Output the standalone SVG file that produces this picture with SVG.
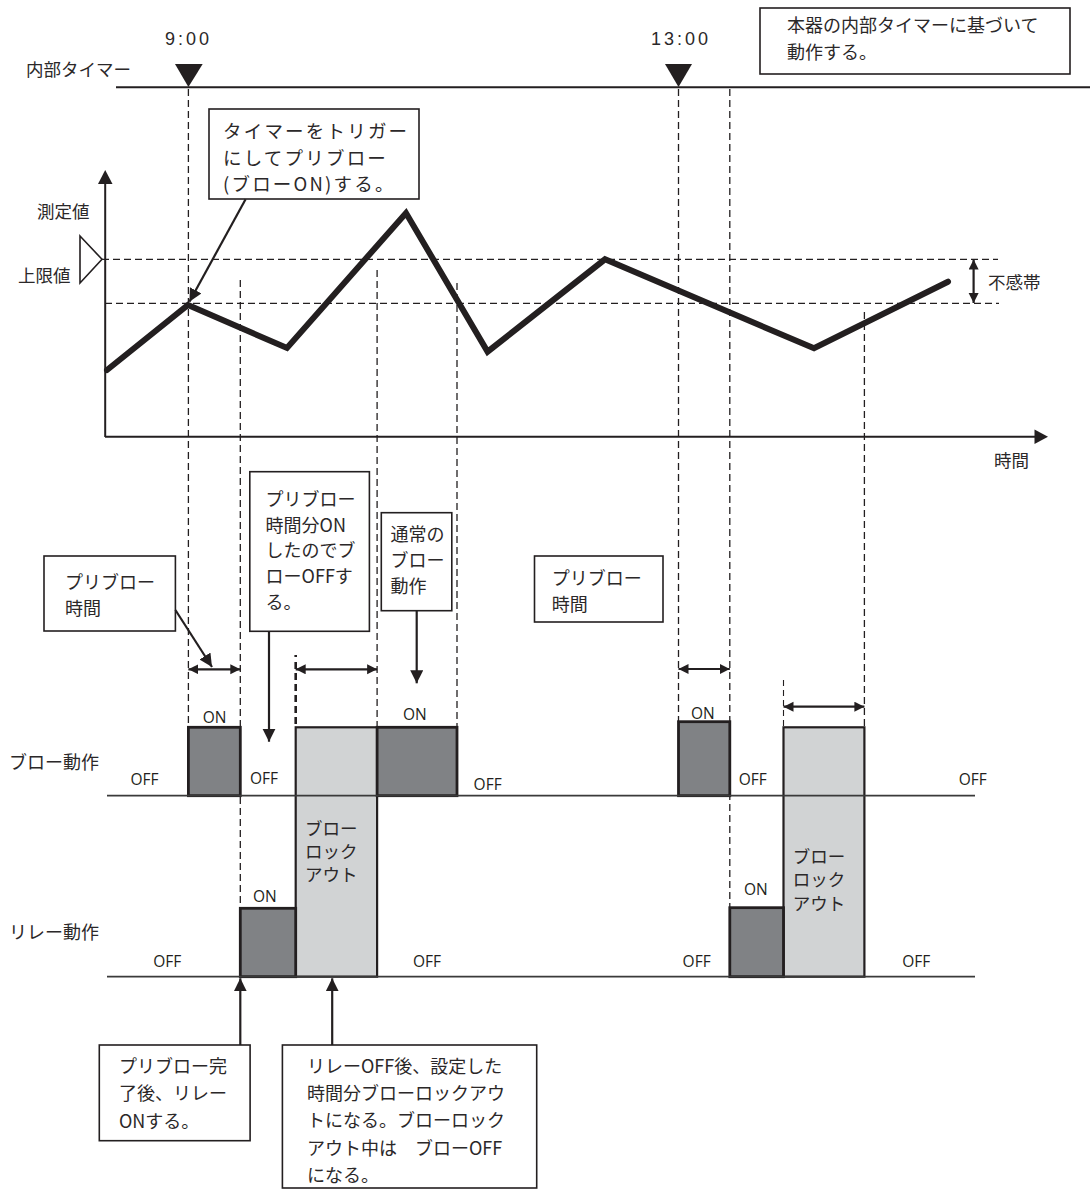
<svg xmlns="http://www.w3.org/2000/svg" width="1090" height="1191" viewBox="0 0 1090 1191">
<style>
.jp{font-family:"Noto Sans CJK JP","Noto Sans",sans-serif;font-size:18px;fill:#2b2829}
.big{font-size:18.5px;letter-spacing:2.2px}
.lat{font-family:"Open Sans","Liberation Sans",sans-serif;font-size:15.5px;fill:#231f20}
.num{font-family:"Liberation Sans",Arial,sans-serif;font-size:18px;letter-spacing:3px;fill:#2b2829}
.box{fill:#fff;stroke:#231f20;stroke-width:1.6}
.dash{fill:none;stroke:#231f20;stroke-width:1.3;stroke-dasharray:7 4}
.on{fill:#808285;stroke:#231f20;stroke-width:2.8}
.lock{fill:#d1d3d4;stroke:#231f20;stroke-width:2.2}
.base{stroke:#3a3a3a;stroke-width:1.8;fill:none}
.arr{stroke:#231f20;stroke-width:2.2;fill:none}
</style>
<defs>
<marker id="big" markerUnits="userSpaceOnUse" markerWidth="14" markerHeight="14" refX="13" refY="6.5" orient="auto"><path d="M0,0 L13,6.5 L0,13 z" fill="#231f20"/></marker>
<marker id="sm" markerUnits="userSpaceOnUse" markerWidth="11" markerHeight="11" refX="10" refY="5" orient="auto-start-reverse"><path d="M0,0 L10,5 L0,10 z" fill="#231f20"/></marker>
</defs>
<rect width="1090" height="1191" fill="#fff"/>

<g id="timer">
<line x1="116" y1="87.3" x2="1090" y2="87.3" stroke="#231f20" stroke-width="2"/>
<polygon points="175,64 202.7,64 188.4,87" fill="#231f20"/>
<polygon points="665,64 692,64 678.5,87" fill="#231f20"/>
<text class="num" x="165" y="45">9:00</text>
<text class="num" x="651" y="45">13:00</text>
<text class="jp" x="26" y="76" style="font-size:17.5px">内部タイマー</text>
</g>

<g id="dashed-guides">
<line class="dash" x1="188.4" y1="89" x2="188.4" y2="727"/>
<line class="dash" x1="240.3" y1="280" x2="240.3" y2="908"/>
<line class="dash" x1="377.1" y1="270" x2="377.1" y2="727"/>
<line class="dash" x1="457" y1="283" x2="457" y2="727"/>
<line class="dash" x1="678.5" y1="89" x2="678.5" y2="722"/>
<line class="dash" x1="729.8" y1="89" x2="729.8" y2="908"/>
<line class="dash" x1="864.4" y1="312" x2="864.4" y2="727"/>
<line class="dash" x1="295.7" y1="655" x2="295.7" y2="727" style="stroke-width:2.6;stroke-dasharray:2 5 7 4 7 4 7 4 7 4 7 4 7 4 7 4"/>
<line class="dash" x1="783.5" y1="680" x2="783.5" y2="727" style="stroke-width:1.1;stroke-dasharray:6 4"/>
<line class="dash" x1="102" y1="259.3" x2="998" y2="259.3"/>
<line class="dash" x1="105" y1="303.3" x2="999" y2="303.3"/>
</g>

<g id="graph">
<line x1="105.2" y1="437" x2="105.2" y2="182" stroke="#231f20" stroke-width="2"/>
<polygon points="105.2,170 112.5,184 98,184" fill="#231f20"/>
<line x1="105" y1="436.7" x2="1036" y2="436.7" stroke="#231f20" stroke-width="2"/>
<polygon points="1048,436.7 1034.5,429.5 1034.5,444" fill="#231f20"/>
<polygon points="80,236 102,259.3 80,283" fill="#fff" stroke="#231f20" stroke-width="1.6"/>
<polyline points="107,370 188,305 287,348 406,213 487.6,351.7 605,259.3 814,348.3 948,281.7" fill="none" stroke="#231f20" stroke-width="6" stroke-linejoin="miter" stroke-miterlimit="10" stroke-linecap="round"/>
<text class="jp" x="37" y="218" style="font-size:17.5px">測定値</text>
<text class="jp" x="18" y="282" style="font-size:17.5px">上限値</text>
<text class="jp" x="988" y="289" style="font-size:17.5px">不感帯</text>
<text class="jp" x="994" y="467" style="font-size:17.5px">時間</text>
</g>

<g id="blow-rects">
<rect class="lock" x="295.7" y="727.3" width="81.4" height="249.4"/>
<rect class="lock" x="783.5" y="727.3" width="80.9" height="249.4"/>
<rect class="on" x="188.4" y="727.3" width="51.9" height="68.4"/>
<rect class="on" x="377.1" y="727.3" width="79.9" height="68.4"/>
<rect class="on" x="678.5" y="721.7" width="51.3" height="74"/>
<rect class="on" x="240.3" y="908.3" width="55.4" height="68.4"/>
<rect class="on" x="729.8" y="907.7" width="53.7" height="69"/>
<line class="base" x1="107" y1="795.7" x2="975" y2="795.7"/>
<line class="base" x1="107" y1="976.7" x2="975" y2="976.7"/>
</g>

<g id="state-labels">
<text class="jp" x="9" y="769">ブロー動作</text>
<text class="jp" x="9" y="939">リレー動作</text>
<text class="lat" x="202.8" y="723">ON</text>
<text class="lat" x="403" y="720">ON</text>
<text class="lat" x="691" y="719">ON</text>
<text class="lat" x="253" y="901.5">ON</text>
<text class="lat" x="744" y="895">ON</text>
<text class="lat" x="130.5" y="785">OFF</text>
<text class="lat" x="250" y="784">OFF</text>
<text class="lat" x="473.6" y="790">OFF</text>
<text class="lat" x="738.7" y="785">OFF</text>
<text class="lat" x="958.8" y="785">OFF</text>
<text class="lat" x="153.3" y="966.7">OFF</text>
<text class="lat" x="413" y="967">OFF</text>
<text class="lat" x="682.6" y="967">OFF</text>
<text class="lat" x="902.3" y="967">OFF</text>
</g>

<g id="lockout-label-1">
<text class="jp" x="305" y="835" style="font-size:17.5px">ブロー</text>
<text class="jp" x="305" y="858" style="font-size:17.5px">ロック</text>
<text class="jp" x="305" y="881" style="font-size:17.5px">アウト</text>
</g>
<g id="lockout-label-2">
<text class="jp" x="792.8" y="863" style="font-size:17.5px">ブロー</text>
<text class="jp" x="792.8" y="886" style="font-size:17.5px">ロック</text>
<text class="jp" x="792.8" y="910" style="font-size:17.5px">アウト</text>
</g>

<g id="note-timer">
<rect class="box" x="760" y="8" width="310" height="66"/>
<text class="jp" x="787" y="32">本器の内部タイマーに基づいて</text>
<text class="jp" x="787" y="59">動作する。</text>
</g>

<g id="note-trigger">
<rect class="box" x="209" y="109" width="210" height="90"/>
<text class="jp big" x="223" y="138">タイマーをトリガー</text>
<text class="jp big" x="223" y="165">にしてプリブロー</text>
<text class="jp big" x="223" y="191">(ブローON)する。</text>
</g>

<g id="note-preblow-1">
<rect class="box" x="44" y="556" width="131.4" height="75"/>
<text class="jp" x="65" y="589">プリブロー</text>
<text class="jp" x="65" y="615">時間</text>
</g>

<g id="note-blow-off">
<rect class="box" x="249.8" y="471.7" width="119.6" height="159.6"/>
<text class="jp" x="265.6" y="506">プリブロー</text>
<text class="jp" x="265.6" y="532">時間分ON</text>
<text class="jp" x="265.6" y="557">したのでブ</text>
<text class="jp" x="265.6" y="583">ローOFFす</text>
<text class="jp" x="265.6" y="609">る。</text>
</g>

<g id="note-normal">
<rect class="box" x="381.3" y="512.7" width="70.5" height="98"/>
<text class="jp" x="390.4" y="541">通常の</text>
<text class="jp" x="390.4" y="567">ブロー</text>
<text class="jp" x="390.4" y="593">動作</text>
</g>

<g id="note-preblow-2">
<rect class="box" x="534.5" y="556" width="128.5" height="66"/>
<text class="jp" x="551.7" y="585">プリブロー</text>
<text class="jp" x="551.7" y="611">時間</text>
</g>

<g id="note-relay-on">
<rect class="box" x="99.3" y="1045" width="150.8" height="95.7"/>
<text class="jp" x="119" y="1073">プリブロー完</text>
<text class="jp" x="119" y="1100">了後、リレー</text>
<text class="jp" x="119" y="1128">ONする。</text>
</g>

<g id="note-lockout">
<rect class="box" x="282.4" y="1045" width="254.3" height="143"/>
<text class="jp" x="307" y="1073">リレーOFF後、設定した</text>
<text class="jp" x="307" y="1100">時間分ブローロックアウ</text>
<text class="jp" x="307" y="1127">トになる。ブローロック</text>
<text class="jp" x="307" y="1155">アウト中は　ブローOFF</text>
<text class="jp" x="307" y="1182">になる。</text>
</g>

<g id="connectors">
<line class="arr" x1="245.6" y1="199.3" x2="189.4" y2="301.7" stroke-width="1.6" marker-end="url(#big)"/>
<line class="arr" x1="175.4" y1="610" x2="212" y2="667" marker-end="url(#big)"/>
<line class="arr" x1="269" y1="631.5" x2="269" y2="741.7" marker-end="url(#big)"/>
<line class="arr" x1="416.7" y1="611" x2="416.7" y2="683.3" marker-end="url(#big)"/>
<line class="arr" x1="240.3" y1="1045" x2="240.3" y2="978.3" marker-end="url(#big)"/>
<line class="arr" x1="332.2" y1="1045" x2="332.2" y2="978.3" marker-end="url(#big)"/>
<line class="arr" x1="188.4" y1="669.3" x2="240.3" y2="669.3" marker-start="url(#sm)" marker-end="url(#sm)"/>
<line class="arr" x1="295.7" y1="669.3" x2="377.1" y2="669.3" marker-start="url(#sm)" marker-end="url(#sm)"/>
<line class="arr" x1="678.5" y1="669" x2="729.8" y2="669" marker-start="url(#sm)" marker-end="url(#sm)"/>
<line class="arr" x1="783.5" y1="706.7" x2="864.4" y2="706.7" marker-start="url(#sm)" marker-end="url(#sm)"/>
<line class="arr" x1="973.6" y1="259.5" x2="973.6" y2="303" stroke-width="1.8" marker-start="url(#sm)" marker-end="url(#sm)"/>
</g>
</svg>
